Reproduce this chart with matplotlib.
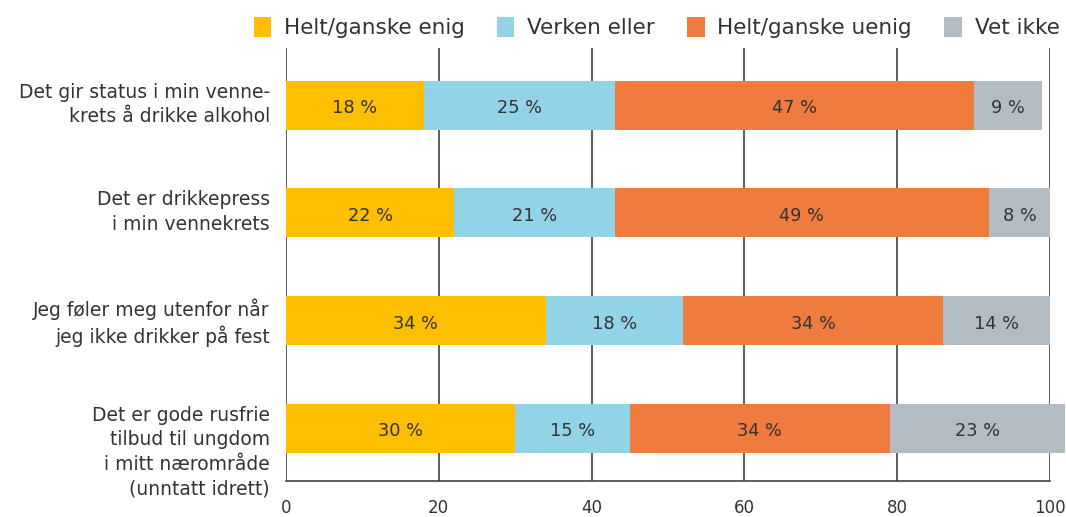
import matplotlib
matplotlib.use("Agg")
import matplotlib.pyplot as plt
from matplotlib.patches import Patch

categories = [
    "Det gir status i min venne-\nkrets å drikke alkohol",
    "Det er drikkepress\ni min vennekrets",
    "Jeg føler meg utenfor når\njeg ikke drikker på fest",
    "Det er gode rusfrie\ntilbud til ungdom\ni mitt nærområde\n(unntatt idrett)",
]
series_names = ["Helt/ganske enig", "Verken eller", "Helt/ganske uenig", "Vet ikke"]
enig = [18, 22, 34, 30]
verken = [25, 21, 18, 15]
uenig = [47, 49, 34, 34]
vet_ikke = [9, 8, 14, 23]
xticks = [0, 20, 40, 60, 80, 100]

colors = ["#FDBF00", "#93D3E7", "#EF7B3F", "#B3BCC2"]
text_color = "#333333"
grid_color = "#333333"

plt.rcParams['font.family'] = ['DejaVu Sans']

fig = plt.figure(figsize=(10.66, 5.17), dpi=100)
ax = fig.add_axes([286/1066, 1 - 481/517, (1050-286)/1066, (481-48)/517])

series = [enig, verken, uenig, vet_ikke]
ypos = list(range(len(categories)))
bar_h = 0.455
left = [0] * len(categories)
for vals, col in zip(series, colors):
    ax.barh(ypos, vals, left=left, height=bar_h, color=col, zorder=3, clip_on=False)
    for y, l, v in zip(ypos, left, vals):
        ax.text(l + v / 2, y + 0.03, f"{v} %", ha="center", va="center",
                fontsize=12.8, color=text_color, zorder=4, clip_on=False)
    left = [a + b for a, b in zip(left, vals)]

ax.set_xlim(0, 100)
ax.set_ylim(3.49, -0.53)
ax.set_xticks(xticks)
ax.set_xticklabels([str(t) for t in xticks], fontsize=12, color=text_color)
ax.tick_params(axis="x", length=0, pad=13)
ax.set_yticks([])
for x in xticks:
    ax.axvline(x, color=grid_color, linewidth=1.1, zorder=1)
for s in ["top", "left", "right"]:
    ax.spines[s].set_visible(False)
ax.spines["bottom"].set_color(grid_color)
ax.spines["bottom"].set_linewidth(1.1)

for y, lab in zip(ypos, categories):
    ax.text(-2.1, y - bar_h / 2 + 0.02, lab, ha="right", va="top", fontsize=13.5,
            color=text_color, linespacing=1.36, clip_on=False)

handles = [Patch(facecolor=c, edgecolor="none") for c in colors]
fig.legend(handles, series_names, ncol=4, loc="upper right", bbox_to_anchor=(1.012, 1.005),
           frameon=False, fontsize=15.5, handlelength=0.8, handleheight=1.1,
           handletextpad=0.6, columnspacing=1.5, labelcolor=text_color)

fig.savefig("out.png", dpi=100)
